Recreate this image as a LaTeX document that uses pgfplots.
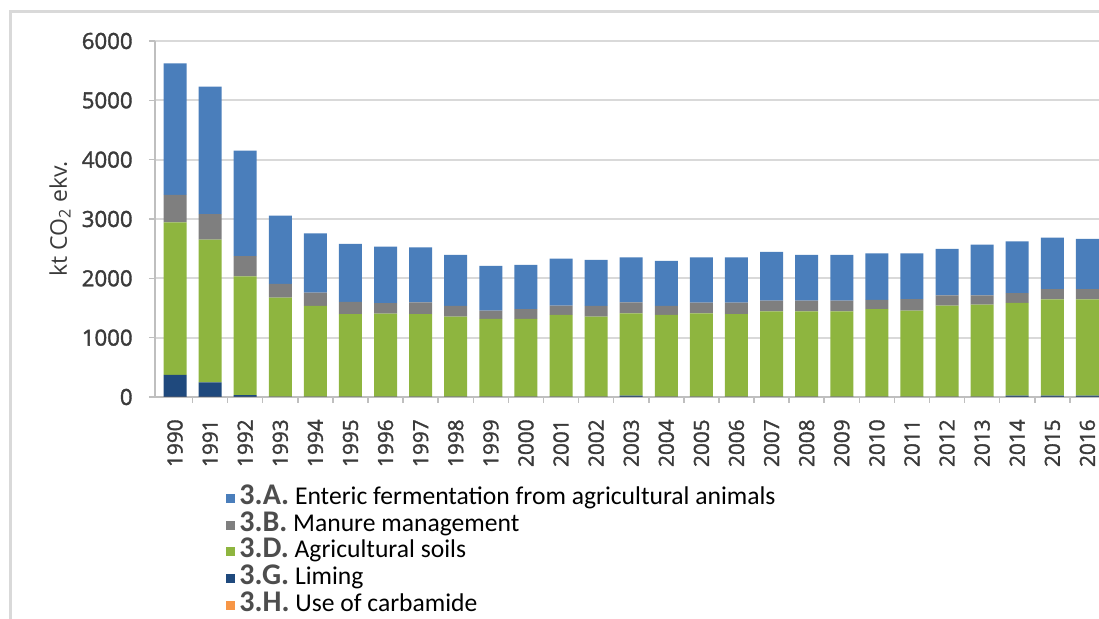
\documentclass[border=0pt]{standalone}
\usepackage{fontspec}
\setmainfont{Carlito}
\newfontfamily\tickfont{Open Sans}[BoldFont={Open Sans}, BoldFeatures={FakeBold=1.6}]
\newfontfamily\labelfont{Open Sans}
\usepackage{pgfplots}
\usepackage{pgfplotstable}
\pgfplotsset{compat=1.18}

\definecolor{enteric}{HTML}{4A7EBB}
\definecolor{manure}{HTML}{7F7F7F}
\definecolor{soils}{HTML}{8EB53F}
\definecolor{liming}{HTML}{1F497D}
\definecolor{carbamide}{HTML}{F79646}
\definecolor{gridgray}{HTML}{D9D9D9}
\definecolor{axisgray}{HTML}{BFBFBF}
\definecolor{codegray}{HTML}{4D4D4D}
\definecolor{ticktext}{HTML}{3A3A3A}

% Agricultural emissions by sub-sector, kt CO2 eq.
% H: use of carbamide, G: liming, D: agricultural soils,
% B: manure management, A: enteric fermentation
\pgfplotstableread{
idx year H G D B A
0 1990 1 370 2570 465 2215
1 1991 1 245 2405 430 2150
2 1992 1 30 2000 345 1775
3 1993 1 5 1670 230 1150
4 1994 1 5 1530 225 995
5 1995 1 5 1390 205 980
6 1996 1 5 1400 175 955
7 1997 1 5 1390 200 925
8 1998 1 5 1350 180 860
9 1999 1 5 1310 140 755
10 2000 1 5 1310 165 745
11 2001 1 5 1380 155 790
12 2002 1 5 1350 180 775
13 2003 1 20 1390 185 755
14 2004 1 5 1380 150 760
15 2005 1 5 1405 180 760
16 2006 1 5 1390 195 760
17 2007 1 5 1435 185 820
18 2008 1 5 1435 185 770
19 2009 1 5 1435 185 770
20 2010 1 5 1475 155 785
21 2011 1 5 1450 195 770
22 2012 1 5 1535 170 785
23 2013 1 5 1550 155 855
24 2014 1 20 1565 165 870
25 2015 1 20 1625 170 870
26 2016 1 20 1625 170 850
}\emissions

\newcommand{\legnum}[1]{{\fontsize{15}{15}\selectfont\bfseries\color{codegray}#1}}

\begin{document}
\begin{tikzpicture}
\useasboundingbox (0,0) rectangle (549.5pt,309.5pt);
\clip (0,0) rectangle (549.5pt,309.5pt);
% outer frame
\draw[gridgray, line width=1.5pt] (5pt,-5pt) -- (5pt,303.5pt) -- (560pt,303.5pt);
\begin{axis}[
  at={(77.5pt,111pt)}, anchor=south west,
  scale only axis, width=472pt, height=178pt,
  xmin=-0.57, xmax=26.33, ymin=0, ymax=6000,
  ybar stacked, bar width=11.5pt,
  axis lines*=left,
  axis line style={axisgray, line width=0.75pt},
  ymajorgrids, grid style={gridgray, line width=1pt},
  ytick={0,1000,...,6000},
  xtick={0,...,26},
  xticklabels from table={\emissions}{year},
  minor xtick={0.5,1.5,...,25.5},
  tick align=outside,
  major tick length=3pt, minor tick length=3pt,
  tick style={axisgray, line width=0.75pt},
  every major x tick/.append style={draw=none},
  scaled y ticks=false,
  /pgf/number format/assume math mode=true,
  /pgf/number format/1000 sep={},
  tick label style={text=ticktext, inner sep=0pt},
  y tick label style={font=\tickfont\bfseries\fontsize{11.1}{13}\selectfont},
  x tick label style={rotate=90, anchor=east, font=\tickfont\bfseries\fontsize{10.4}{12}\selectfont},
  xticklabel shift=8pt,
  yticklabel shift=8pt,
  ylabel={kt CO\textsubscript{2} ekv.},
  ylabel style={at={(axis description cs:-0.1006,0.5)}, anchor=center,
    text=ticktext, font=\labelfont\fontsize{11.5}{13}\selectfont},
  legend style={at={(axis description cs:0.0752,-0.2500)}, anchor=north west,
    draw=none, fill=none, inner sep=0pt, row sep=1.4pt, column sep=2pt,
    font=\fontsize{12.8}{14}\selectfont,
    nodes={inner sep=0pt, text height=9pt, text depth=3pt}},
  legend cell align=left,
  reverse legend,
  legend image code/.code={\fill[#1] (0pt,-2.25pt) rectangle (4.5pt,2.25pt);},
]
\addplot[fill=carbamide, draw=none] table[x=idx, y=H] {\emissions};
\addplot[fill=liming, draw=none] table[x=idx, y=G] {\emissions};
\addplot[fill=soils, draw=none] table[x=idx, y=D] {\emissions};
\addplot[fill=manure, draw=none] table[x=idx, y=B] {\emissions};
\addplot[fill=enteric, draw=none] table[x=idx, y=A] {\emissions};
\legend{\legnum{3.H.} Use of carbamide,
        \legnum{3.G.} Liming,
        \legnum{3.D.} Agricultural soils,
        \legnum{3.B.} Manure management,
        \legnum{3.A.} Enteric fermentation from agricultural animals}
\end{axis}
\end{tikzpicture}
\end{document}
